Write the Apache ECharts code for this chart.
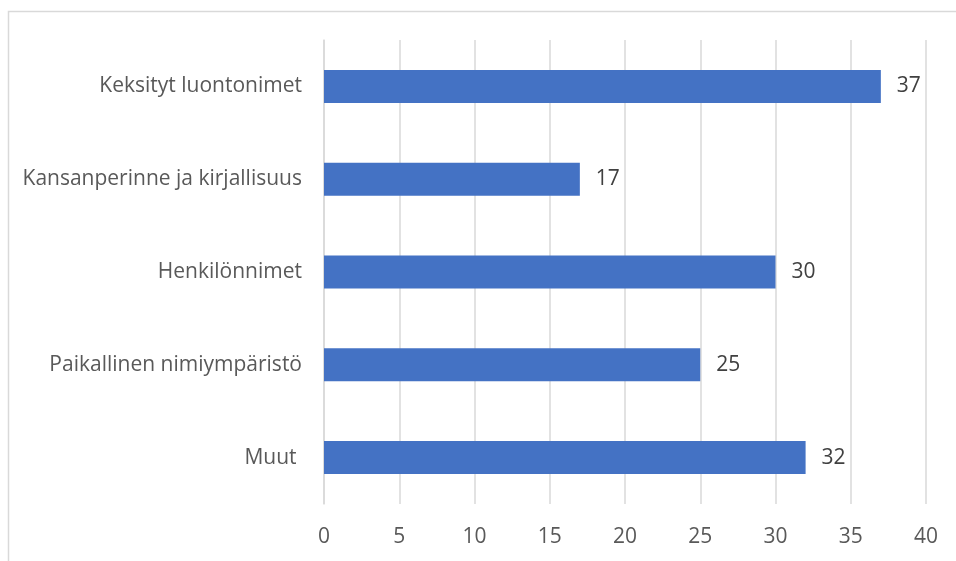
<!DOCTYPE html>
<html>
<head>
<meta charset="utf-8">
<script src="https://cdn.jsdelivr.net/npm/echarts@6/dist/echarts.min.js"></script>
<style>html,body{margin:0;padding:0;background:#fff;}#c{width:956px;height:561px;}</style>
</head>
<body>
<div id="c"></div>
<script>
const categories = ["Keksityt luontonimet", "Kansanperinne ja kirjallisuus", "Henkilönnimet", "Paikallinen nimiympäristö", "Muut "];
const values = [37, 17, 30, 25, 32];
const xTicks = { min: 0, max: 40, interval: 5 };

const chart = echarts.init(document.getElementById('c'), null, { renderer: 'canvas' });
const font = '"Open Sans", "Liberation Sans", sans-serif';
chart.setOption({
  animation: false,
  backgroundColor: '#ffffff',
  graphic: [{
    type: 'rect', silent: true,
    shape: { x: 8.5, y: 11.5, width: 1000, height: 600 },
    style: { fill: 'none', stroke: '#d9d9d9', lineWidth: 1.5 }
  }],
  grid: { left: 324, right: 30, top: 40, bottom: 57, containLabel: false },
  xAxis: {
    type: 'value', min: xTicks.min, max: xTicks.max, interval: xTicks.interval,
    axisLine: { show: false }, axisTick: { show: false },
    splitLine: { show: true, lineStyle: { color: '#d9d9d9', width: 1.5 } },
    axisLabel: { color: '#595959', fontSize: 21, fontFamily: font, margin: 23 }
  },
  yAxis: {
    type: 'category', inverse: true, data: categories,
    axisLine: { show: true, lineStyle: { color: '#d9d9d9', width: 1.5 } },
    axisTick: { show: false },
    axisLabel: { color: '#595959', fontSize: 21, fontFamily: font, margin: 22 }
  },
  series: [{
    type: 'bar', data: values, barWidth: 33,
    itemStyle: { color: '#4472C4' },
    label: { show: true, position: 'right', distance: 16, color: '#404040', fontSize: 21, fontFamily: font }
  }]
});
</script>
</body>
</html>
